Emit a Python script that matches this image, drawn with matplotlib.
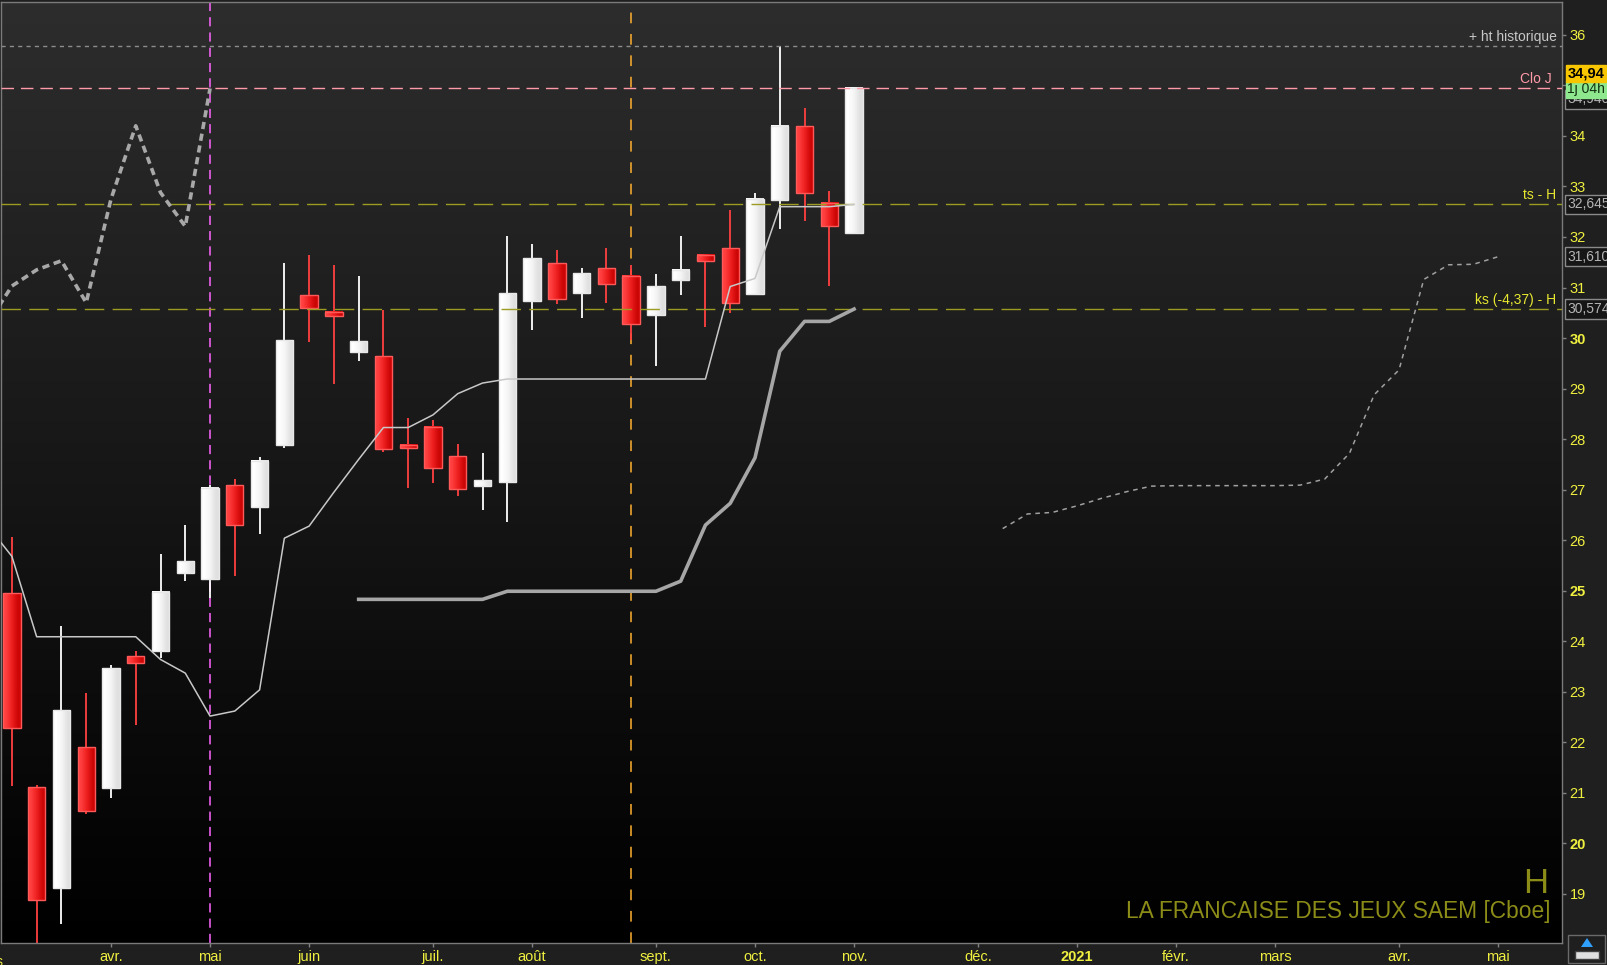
import numpy as np
import matplotlib
matplotlib.use("Agg")
from matplotlib import pyplot as plt
from matplotlib.colors import LinearSegmentedColormap
from matplotlib.patches import Rectangle, Polygon

plt.rcParams['font.family'] = ['Liberation Sans', 'DejaVu Sans']

# weekly candles, x = week number counted from the week of 6 april 2020
weeks = list(range(-4, 31))
opens = [24.95, 21.11, 19.12, 21.91, 21.10, 23.71, 23.80, 25.36, 25.23, 27.09,
         26.65, 27.89, 30.85, 30.52, 29.73, 29.65, 27.89, 28.24, 27.66, 27.08,
         27.16, 30.74, 31.48, 30.90, 31.38, 31.23, 30.46, 31.14, 31.65, 31.78,
         30.87, 32.73, 34.19, 32.67, 32.07]
highs = [26.06, 21.15, 24.30, 22.98, 23.53, 23.80, 25.73, 26.30, 27.09, 27.21,
         27.64, 31.48, 31.65, 31.45, 31.23, 30.56, 28.41, 28.38, 27.90, 27.72,
         32.01, 31.86, 31.74, 31.38, 31.78, 31.45, 31.27, 32.01, 31.66, 32.54,
         32.87, 35.78, 34.55, 32.92, 34.94]
lows = [21.14, 18.00, 18.40, 20.58, 20.90, 22.35, 23.66, 25.20, 24.85, 25.30,
        26.13, 27.82, 29.93, 29.09, 29.55, 27.75, 27.04, 27.13, 26.88, 26.59,
        26.37, 30.15, 30.67, 30.39, 30.69, 29.96, 29.45, 30.85, 30.22, 30.50,
        30.85, 32.16, 32.32, 31.03, 32.05]
closes = [22.29, 18.89, 22.64, 20.65, 23.47, 23.58, 24.98, 25.59, 27.04, 26.31,
          27.57, 29.96, 30.60, 30.44, 29.94, 27.81, 27.83, 27.42, 27.01, 27.19,
          30.89, 31.58, 30.78, 31.28, 31.07, 30.27, 31.03, 31.35, 31.53, 30.70,
          32.75, 34.20, 32.88, 32.21, 34.94]

# tenkan (thin line)
tenkan_weeks = list(range(-5, 31))
tenkan = [26.30, 25.68, 24.09, 24.09, 24.09, 24.09, 24.09, 23.64, 23.37, 22.52,
          22.62, 23.04, 26.04, 26.28, 26.95, 27.60, 28.23, 28.23, 28.48, 28.90,
          29.11, 29.19, 29.19, 29.19, 29.19, 29.19, 29.19, 29.19, 29.19, 29.19,
          31.02, 31.18, 32.60, 32.60, 32.60, 32.645]

# kijun (thick line)
kijun_weeks = list(range(10, 31))
kijun = [24.83, 24.83, 24.83, 24.83, 24.83, 24.83, 24.99, 24.99, 24.99, 24.99,
         24.99, 24.99, 24.99, 25.19, 26.30, 26.73, 27.63, 29.74, 30.33, 30.33,
         30.574]

# senkou B projected forward (thin dashed)
ssb_weeks = list(range(36, 57))
ssb = [26.23, 26.52, 26.55, 26.68, 26.83, 26.96, 27.07, 27.08, 27.08, 27.08,
       27.08, 27.08, 27.09, 27.21, 27.72, 28.88, 29.37, 31.16, 31.45, 31.46,
       31.61]

# chikou = closes shifted back 26 weeks
chikou_shift = 26
chikou_start = 25

month_weeks = [-5, 0, 4, 8, 13, 17, 22, 26, 30, 35, 39, 43, 47, 52, 56]
month_labels = ['mars', 'avr.', 'mai', 'juin', 'juil.', 'août', 'sept.', 'oct.',
                'nov.', 'déc.', '2021', 'févr.', 'mars', 'avr.', 'mai']

ht_hist = 35.78
clo_j = 34.94
ts_level = 32.645
ks_level = 30.574
ssb_last = 31.61
mark_weeks = [4, 21]

W, H = 1607, 965
fig = plt.figure(figsize=(W / 100, H / 100), dpi=100, facecolor='#1f1f1f')
ax = fig.add_axes([1 / W, 1 - 943 / H, 1561 / W, 941 / H])
xmin, xmax = -4.44, 58.58
ymin, ymax = 18.03, 36.65

# background gradient
bg = LinearSegmentedColormap.from_list('bg', ['#000000', '#2d2d2d'])
ax.imshow(np.linspace(0, 1, 256)[:, None], cmap=bg, origin='lower', aspect='auto',
          extent=[0, 1, 0, 1], transform=ax.transAxes, zorder=0)

# vertical markers
ax.axvline(mark_weeks[0], color='#ff66ff', lw=1.1, dashes=(6, 4), zorder=1)
ax.axvline(mark_weeks[1], color='#ffb030', lw=1.1, dashes=(7, 7), zorder=1)

# candles
bw = 0.7
red_grad = np.array([[[1.0, 0.25, 0.25], [0.93, 0.12, 0.12], [0.80, 0.02, 0.02]]])
white_grad = np.array([[[1.0, 1.0, 1.0], [0.96, 0.96, 0.96], [0.88, 0.88, 0.88]]])
for w, o, h, l, c in zip(weeks, opens, highs, lows, closes):
    up = c >= o
    wick_col = '#ffffff' if up else '#ff4040'
    ax.vlines(w, l, h, color=wick_col, lw=1.3, zorder=2)
    lo, hi = min(o, c), max(o, c)
    ax.imshow(white_grad if up else red_grad, aspect='auto', interpolation='bilinear',
              extent=[w - bw / 2, w + bw / 2, lo, hi], zorder=3)
    ax.add_patch(Rectangle((w - bw / 2, lo), bw, hi - lo, fill=False,
                           ec='#e8e8e8' if up else '#ff5a5a', lw=1, zorder=3.1))

# ichimoku lines
ax.plot(tenkan_weeks, tenkan, color='#c8c8c8', lw=1.1, zorder=5)
ax.plot(kijun_weeks, kijun, color='#a6a6a6', lw=2.6, zorder=5)
ax.plot(ssb_weeks, ssb, color='#a0a0a0', lw=1.1, dashes=(3, 3), zorder=5)
ch_w = [w - chikou_shift for w in weeks[chikou_start:]]
ax.plot(ch_w, closes[chikou_start:], color='#a8a8a8', lw=2.6, dashes=(2, 1.3), zorder=5)

# level lines
ax.axhline(ht_hist, color='#8c8c8c', lw=1, dashes=(3, 3), zorder=4)
ax.axhline(clo_j, color='#ff9aa8', lw=1, dashes=(9, 5), zorder=4)
ax.axhline(ts_level, color='#9c9c22', lw=1, dashes=(14, 6), zorder=4)
ax.axhline(ks_level, color='#9c9c22', lw=1, dashes=(14, 6), zorder=4)

yt = ax.get_yaxis_transform()
off = 0.04
ax.text(0.9965, ht_hist + off, '+ ht historique', transform=yt, ha='right', va='bottom',
        color='#c8c8c8', fontsize=10)
ax.text(0.9935, clo_j + off, 'Clo J', transform=yt, ha='right', va='bottom',
        color='#ff9aa8', fontsize=10)
ax.text(0.9965, ts_level + off, 'ts - H', transform=yt, ha='right', va='bottom',
        color='#e8e830', fontsize=10)
ax.text(0.9965, ks_level + off, 'ks (-4,37) - H', transform=yt, ha='right', va='bottom',
        color='#e8e830', fontsize=10)

# price boxes on the right axis
box_x = 1.0035
for val, txt in [(ts_level, '32,645'), (ssb_last, '31,610'), (ks_level, '30,574')]:
    ax.text(box_x, val, txt, transform=yt, ha='left', va='center', color='#b4b4b4',
            fontsize=10, clip_on=False,
            bbox=dict(boxstyle='square,pad=0.2', fc='#161616', ec='#8a8a8a', lw=1))
ax.annotate('34,940', xy=(box_x, clo_j), xycoords=yt, xytext=(0, -11),
            textcoords='offset pixels', ha='left', va='center', color='#b4b4b4',
            fontsize=10, annotation_clip=False,
            bbox=dict(boxstyle='square,pad=0.15', fc='#161616', ec='#8a8a8a', lw=1))
ax.annotate('1j 04h', xy=(box_x, clo_j), xycoords=yt, xytext=(0, -1),
            textcoords='offset pixels', ha='left', va='center', color='#103010',
            fontsize=10, annotation_clip=False,
            bbox=dict(boxstyle='square,pad=0.12', fc='#8ee88e', ec='#8ee88e', lw=1))
ax.annotate('34,94', xy=(box_x, clo_j), xycoords=yt, xytext=(0, 15),
            textcoords='offset pixels', ha='left', va='center', color='#000000',
            fontsize=10.5, fontweight='bold', annotation_clip=False,
            bbox=dict(boxstyle='square,pad=0.12', fc='#f7c600', ec='#f7c600', lw=1))

# name
fig.text(1548 / W, 1 - 893 / H, 'H', ha='right', va='baseline', color='#8c8c18', fontsize=25)
fig.text(1551 / W, 1 - 918 / H, 'LA FRANCAISE DES JEUX SAEM [Cboe]', ha='right',
         va='baseline', color='#8c8c18', fontsize=16.4)

# axes
ax.set_xlim(xmin, xmax)
ax.set_ylim(ymin, ymax)
ax.yaxis.tick_right()
yticks = list(range(19, 37))
ax.set_yticks(yticks)
ax.set_yticklabels([str(v) for v in yticks])
for lab, v in zip(ax.get_yticklabels(), yticks):
    if v % 5 == 0:
        lab.set_fontweight('bold')
ax.set_xticks(month_weeks[1:])
ax.set_xticklabels(month_labels[1:])
for lab in ax.get_xticklabels():
    if lab.get_text() == '2021':
        lab.set_fontweight('bold')
ax.text(month_weeks[0], -0.013, month_labels[0], transform=ax.get_xaxis_transform(),
        ha='center', va='top', color='#f0f040', fontsize=10, clip_on=False)
ax.tick_params(colors='#808080', labelcolor='#f0f040', labelsize=10.5, length=3, width=1,
               direction='out', pad=2)
ax.tick_params(axis='y', pad=2.5)
for s in ax.spines.values():
    s.set_color('#7a7a7a')
    s.set_linewidth(1)

# small icon bottom right
fig.add_artist(Rectangle((1568 / W, 2 / H), 37 / W, 28 / H, transform=fig.transFigure,
                         fc='#1f1f1f', ec='#6a6a6a', lw=1))
fig.add_artist(Rectangle((1575 / W, 6 / H), 24 / W, 8 / H, transform=fig.transFigure,
                         fc='#e0e0e0', ec='#404040', lw=1))
fig.add_artist(Polygon([(1581 / W, 18 / H), (1593 / W, 18 / H), (1587 / W, 27 / H)],
                       closed=True, transform=fig.transFigure, fc='#30a0ff', ec='none'))

fig.savefig('out.png', dpi=100, facecolor=fig.get_facecolor())
